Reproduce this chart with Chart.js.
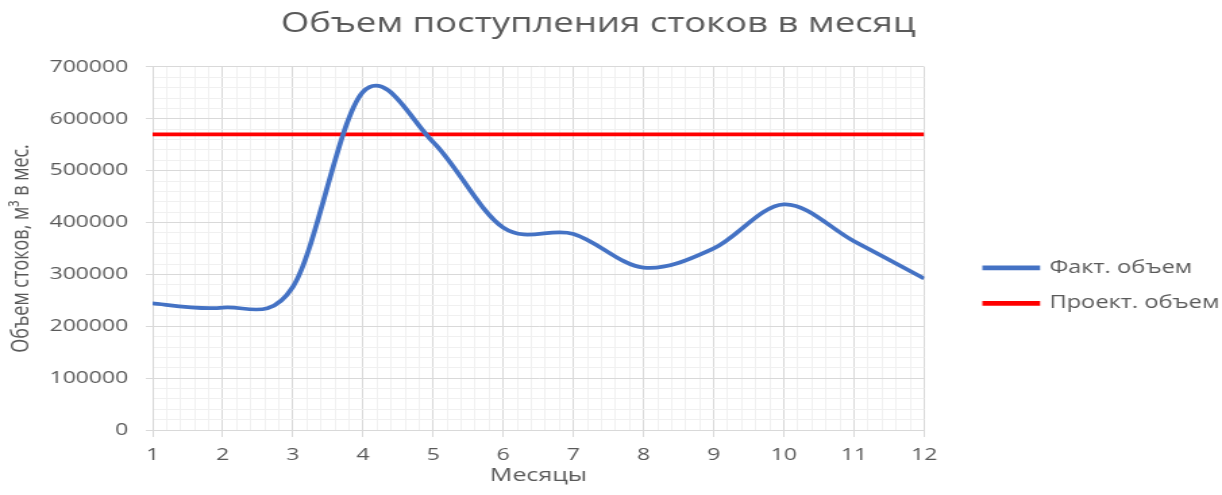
<!DOCTYPE html>
<html lang="ru">
<head>
<meta charset="utf-8">
<title>Объем поступления стоков в месяц</title>
<script src="https://cdn.jsdelivr.net/npm/chart.js@4/dist/chart.umd.min.js"></script>
<style>
  html, body { margin: 0; padding: 0; background: #fff; }
</style>
</head>
<body>
<!-- canvas is drawn narrower and widened by CSS to get the wide lettering -->
<canvas id="inflowChart" width="905" height="495" style="display:block;width:1222px;height:495px"></canvas>
<script>
// months 1..12
const months = [1, 2, 3, 4, 5, 6, 7, 8, 9, 10, 11, 12];
// actual inflow, m3 per month
const actualVolume = [244000, 236000, 276000, 652000, 555000, 390000, 378000, 313000, 350000, 435000, 364000, 292000];
// design inflow, m3 per month
const designVolume = [570000, 570000, 570000, 570000, 570000, 570000, 570000, 570000, 570000, 570000, 570000, 570000];

const yMax = 700000;
const yStep = 100000;
const yMinorStep = 20000;
const xMinorStep = 0.2;

const textColor = "#595959";
const majorGrid = "#d9d9d9";
const minorGrid = "#f0f0f0";
const fontFamily = "'Open Sans', 'DejaVu Sans', sans-serif";
const legendGap = 27;
const legendDrop = 76;

const isWhole = (v) => Math.abs(v - Math.round(v)) < 1e-6;
const isMajorY = (v) => Math.abs(v / yStep - Math.round(v / yStep)) < 1e-6;

// move the legend away from the plot and lower it a little
const legendOffset = {
  id: "legendOffset",
  afterLayout(chart) {
    chart.legend.left += legendGap;
    chart.legend.right += legendGap;
    chart.legend.top += legendDrop;
  },
};

// uniform Catmull-Rom smoothing (tangent = (next - prev) / 6) instead of
// the distance weighted one, so steep jumps don't get a kink
const evenSmoothing = {
  id: "evenSmoothing",
  beforeDatasetsDraw(chart) {
    const meta = chart.getDatasetMeta(0);
    const pts = meta.data;
    const n = pts.length;
    for (let i = 0; i < n; i++) {
      const prev = pts[Math.max(i - 1, 0)];
      const next = pts[Math.min(i + 1, n - 1)];
      const tx = (next.x - prev.x) / 6;
      const ty = (next.y - prev.y) / 6;
      pts[i].cp1x = pts[i].x - tx;
      pts[i].cp1y = pts[i].y - ty;
      pts[i].cp2x = pts[i].x + tx;
      pts[i].cp2y = pts[i].y + ty;
    }
    meta.dataset._pointsUpdated = true;
    meta.dataset._path = undefined;
  },
};

const ctx = document.getElementById("inflowChart").getContext("2d");

new Chart(ctx, {
  type: "line",
  data: {
    datasets: [
      {
        label: "Факт. объем",
        data: months.map((m, i) => ({ x: m, y: actualVolume[i] })),
        borderColor: "#4472c4",
        backgroundColor: "#4472c4",
        borderWidth: 3.75,
        pointRadius: 0,
        tension: 0.4,
      },
      {
        label: "Проект. объем",
        data: months.map((m, i) => ({ x: m, y: designVolume[i] })),
        borderColor: "#ff0000",
        backgroundColor: "#ff0000",
        borderWidth: 3.75,
        pointRadius: 0,
      },
    ],
  },
  plugins: [legendOffset, evenSmoothing],
  options: {
    responsive: false,
    animation: false,
    devicePixelRatio: 1,
    layout: { padding: { left: 0, right: 19, top: 0, bottom: 0 } },
    plugins: {
      title: {
        display: true,
        text: "Объем поступления стоков в месяц",
        color: textColor,
        font: { family: fontFamily, size: 27, weight: "normal" },
        padding: { top: 8.5, bottom: 26 },
      },
      legend: {
        position: "right",
        labels: {
          color: textColor,
          font: { family: fontFamily, size: 17.5 },
          boxWidth: 39,
          boxHeight: 1,
          padding: 18,
        },
      },
      tooltip: { enabled: false },
    },
    scales: {
      x: {
        type: "linear",
        position: "bottom",
        min: 1,
        max: 12,
        afterFit: (scale) => { scale.height = 65; },
        ticks: {
          stepSize: xMinorStep,
          autoSkip: false,
          maxRotation: 0,
          color: textColor,
          font: { family: fontFamily, size: 17 },
          padding: 8,
          callback: (v) => (isWhole(v) ? String(Math.round(v)) : ""),
        },
        grid: {
          color: (c) => (isWhole(c.tick.value) ? majorGrid : minorGrid),
          tickColor: (c) => (isWhole(c.tick.value) ? majorGrid : "rgba(0,0,0,0)"),
          tickLength: 7,
        },
        border: { color: majorGrid },
        title: {
          display: true,
          text: "Месяцы",
          color: textColor,
          font: { family: fontFamily, size: 18.5 },
          padding: { top: 0, bottom: 8 },
        },
      },
      y: {
        type: "linear",
        position: "left",
        min: 0,
        max: yMax,
        afterFit: (scale) => { scale.width = 113; },
        ticks: {
          stepSize: yMinorStep,
          autoSkip: false,
          color: textColor,
          font: { family: fontFamily, size: 17 },
          padding: 13,
          callback: (v) => (isMajorY(v) ? String(v) : ""),
        },
        grid: {
          color: (c) => (isMajorY(c.tick.value) ? majorGrid : minorGrid),
          tickColor: (c) => (isMajorY(c.tick.value) ? majorGrid : "rgba(0,0,0,0)"),
          tickLength: 5,
        },
        border: { color: majorGrid },
        title: {
          display: true,
          text: "Объем стоков, м³ в мес.",
          color: textColor,
          font: { family: fontFamily, size: 18 },
          padding: { top: 5, bottom: 0 },
        },
      },
    },
  },
});
</script>
</body>
</html>
